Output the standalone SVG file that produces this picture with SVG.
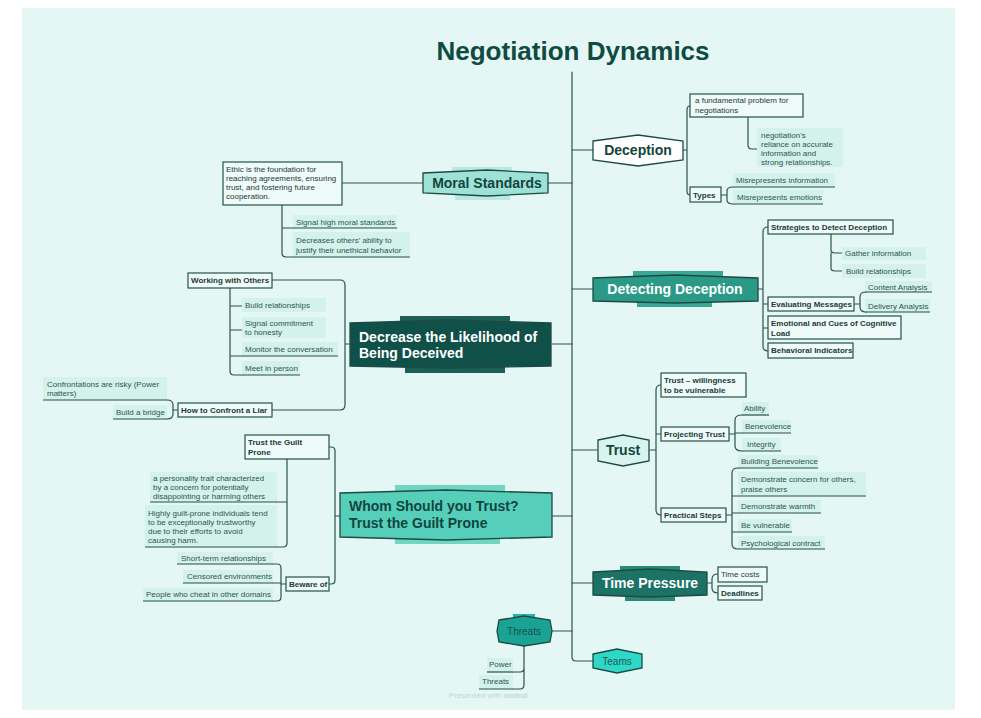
<svg xmlns="http://www.w3.org/2000/svg" width="981" height="718" viewBox="0 0 981 718">
<style>
.conn{fill:none;stroke:#2a524c;stroke-width:1.2;stroke-linecap:round}
.box{fill:#eefbf8;stroke:#24514b;stroke-width:1.2}
.lbl{fill:#d2f2eb}
.ul{stroke:#24514b;stroke-width:1.2;fill:none}
.t{font-family:"Liberation Sans",Arial,sans-serif;font-size:8px;fill:#35524e}
.tb{font-family:"Liberation Sans",Arial,sans-serif;font-size:8px;fill:#1c3a36;font-weight:bold}
.tn{font-family:"Liberation Sans",Arial,sans-serif;font-size:8px;fill:#1c3a36}
.main{font-family:"Liberation Sans",Arial,sans-serif;font-weight:bold;font-size:14px}
.ms{stroke:#1e4a44;stroke-width:1.3}
</style>
<rect x="0" y="0" width="981" height="718" fill="#ffffff"/>
<rect x="22" y="8" width="933" height="702" fill="#e4f7f4"/>
<text x="573" y="60" text-anchor="middle" font-family="Liberation Sans, Arial, sans-serif" font-weight="bold" font-size="26" fill="#0f4a43">Negotiation Dynamics</text>

<g id="connectors">
<path class="conn" d="M572,72 V657 Q572,661 576,661 H593"/>
<path class="conn" d="M572,150 H593 M572,289 H593 M572,450 H597 M572,583 H593"/>
<path class="conn" d="M572,183 H548 M572,344 H552 M572,516 H552 M572,631 H552"/>
<path class="conn" d="M683,150 H687 M690,106 Q687,106 687,110 V191 Q687,195 690,195 M748,117 V145 Q748,149 752,149 H757"/>
<path class="conn" d="M721,195 H727 M733,187 Q727,187 727,191 V200 Q727,204 733,204"/>
<path class="conn" d="M758,289 H763 M768,227 Q763,227 763,232 V346 Q763,351 768,351 M763,304 H768 M763,328 H768"/>
<path class="conn" d="M831,234 V250 Q831,253 835,253 H842 M831,253 V268 Q831,271 835,271 H842"/>
<path class="conn" d="M854,304 H860 M866,292 Q860,292 860,297 V307 Q860,312 866,312"/>
<path class="conn" d="M650,450 H656 M661,385 Q656,385 656,390 V510 Q656,515 661,515 M656,434 H661"/>
<path class="conn" d="M729,434 H735 M742,415 Q735,415 735,420 V446 Q735,451 742,451 M735,433 H742"/>
<path class="conn" d="M726,515 H732 M738,468 Q732,468 732,473 V544 Q732,549 738,549 M732,496 H738 M732,513 H738 M732,532 H738"/>
<path class="conn" d="M707,583 H712 M718,574 Q712,574 712,579 V588 Q712,593 718,593"/>
<path class="conn" d="M423,183 H342 M282,205 V253 Q282,257 286,257 H293 M282,228 H293"/>
<path class="conn" d="M350,344 H345 M272,280 H340 Q345,280 345,285 V405 Q345,410 340,410 H272"/>
<path class="conn" d="M230,288 V371 Q230,375 234,375 H242 M230,306 H242 M230,330 H242 M230,356 H242"/>
<path class="conn" d="M178,410 H173 M167,400 Q173,400 173,405 V414 Q173,419 167,419"/>
<path class="conn" d="M340,516 H335 M329,447 H331 Q335,447 335,451 V580 Q335,584 331,584 H329"/>
<path class="conn" d="M287,459 V543 Q287,547 283,547 H277 M287,502 H277"/>
<path class="conn" d="M286,584 H281 M273,564 H277 Q281,564 281,568 V597 Q281,601 277,601 H273 M281,583 H273"/>
<path class="conn" d="M524,645 V668 Q524,672 520,672 H513 M524,668 V685 Q524,689 520,689 H513"/>
</g>

<g id="deception">
<polygon points="593,141 638,135 683,141 683,160 638,166 593,160" fill="#ffffff" class="ms"/>
<text x="638" y="155" text-anchor="middle" class="main" fill="#14443e">Deception</text>
</g>
<g id="detecting-deception">
<rect x="633" y="271" width="90" height="8" fill="#3aa894"/>
<rect x="637" y="300" width="75" height="7" fill="#3aa894"/>
<polygon points="593,278 675,275 758,278 758,301 675,303 593,301" fill="#2a9a86" class="ms"/>
<text x="675" y="294" text-anchor="middle" class="main" fill="#ffffff">Detecting Deception</text>
</g>
<g id="trust">
<polygon points="598,440 623,435 649,440 649,461 623,466 598,461" fill="#d7f4ee" class="ms"/>
<text x="623" y="455" text-anchor="middle" class="main" fill="#14443e">Trust</text>
</g>
<g id="time-pressure">
<rect x="620" y="566" width="60" height="6" fill="#2a8a7a"/>
<rect x="625" y="595" width="50" height="6" fill="#2a8a7a"/>
<polygon points="593,572 650,569 707,572 707,595 650,597 593,595" fill="#1b7265" class="ms"/>
<text x="650" y="588" text-anchor="middle" class="main" fill="#ffffff">Time Pressure</text>
</g>
<g id="teams">
<polygon points="593,654 617,649 642,654 642,668 617,673 593,668" fill="#2dd8c8" class="ms"/>
<text x="617" y="665" text-anchor="middle" font-family="Liberation Sans, Arial, sans-serif" font-size="10" fill="#1a5a52">Teams</text>
</g>
<g id="moral-standards">
<rect x="452" y="167" width="60" height="6" fill="#b7ebe1"/>
<rect x="455" y="194" width="55" height="6" fill="#b7ebe1"/>
<polygon points="423,173 487,170 548,173 548,193 487,196 423,193" fill="#9de2d5" class="ms"/>
<text x="487" y="188" text-anchor="middle" class="main" fill="#14443e">Moral Standards</text>
</g>
<g id="decrease">
<rect x="400" y="316" width="110" height="7" fill="#1c5f56"/>
<rect x="405" y="366" width="100" height="7" fill="#1c5f56"/>
<polygon points="350,323 450,320 551,323 551,366 450,368 350,366" fill="#0f5148" class="ms"/>
<text x="359" y="342" class="main" font-size="13" fill="#ffffff">Decrease the Likelihood of</text>
<text x="359" y="358" class="main" font-size="13" fill="#ffffff">Being Deceived</text>
</g>
<g id="whom">
<rect x="395" y="485" width="110" height="8" fill="#6fd6c3"/>
<rect x="395" y="536" width="105" height="8" fill="#6fd6c3"/>
<polygon points="340,493 446,490 552,493 552,537 446,540 340,537" fill="#56cfba" class="ms"/>
<text x="349" y="511" class="main" font-size="13" fill="#11443e">Whom Should you Trust?</text>
<text x="349" y="528" class="main" font-size="13" fill="#11443e">Trust the Guilt Prone</text>
</g>
<g id="threats">
<rect x="513" y="614" width="22" height="5" fill="#2bb3a6"/>
<polygon points="499,620 524,616 550,620 552,631 550,642 524,646 499,642 497,631" fill="#1aa395" class="ms"/>
<text x="524" y="635" text-anchor="middle" font-family="Liberation Sans, Arial, sans-serif" font-size="10" fill="#14524a">Threats</text>
</g>

<g id="fundamental-problem">
<rect x="690" y="94" width="113" height="23" class="box"/>
<text x="695" y="103" class="tn">a fundamental problem for</text>
<text x="695" y="113" class="tn">negotiations</text>
</g>
<g id="reliance">
<rect x="757" y="128" width="86" height="39" class="lbl"/>
<text x="761" y="138" class="t">negotiation's</text>
<text x="761" y="147" class="t">reliance on accurate</text>
<text x="761" y="156" class="t">information and</text>
<text x="761" y="165" class="t">strong relationships.</text>
</g>
<g id="types">
<rect x="690" y="187" width="31" height="15" class="box"/>
<text x="693" y="198" class="tb">Types</text>
</g>
<g id="misrep-info">
<rect x="733" y="173" width="102" height="14" class="lbl"/>
<line x1="733" y1="187" x2="835" y2="187" class="ul"/>
<text x="736" y="183" class="t">Misrepresents information</text>
</g>
<g id="misrep-emotions">
<rect x="733" y="190" width="90" height="14" class="lbl"/>
<line x1="733" y1="204" x2="823" y2="204" class="ul"/>
<text x="737" y="200" class="t">Misrepresents emotions</text>
</g>

<g id="strategies">
<rect x="768" y="220" width="125" height="14" class="box"/>
<text x="771" y="230" class="tb">Strategies to Detect Deception</text>
</g>
<g id="gather-info">
<rect x="842" y="247" width="84" height="13" class="lbl"/>
<text x="845" y="256" class="t">Gather information</text>
</g>
<g id="build-rel-1">
<rect x="842" y="264" width="84" height="14" class="lbl"/>
<text x="846" y="274" class="t">Build relationships</text>
</g>
<g id="evaluating">
<rect x="768" y="297" width="86" height="14" class="box"/>
<text x="771" y="307" class="tb">Evaluating Messages</text>
</g>
<g id="content-analysis">
<rect x="865" y="281" width="67" height="11" class="lbl"/>
<line x1="865" y1="292" x2="932" y2="292" class="ul"/>
<text x="868" y="290" class="t">Content Analysis</text>
</g>
<g id="delivery-analysis">
<rect x="865" y="299" width="65" height="13" class="lbl"/>
<line x1="865" y1="312" x2="930" y2="312" class="ul"/>
<text x="868" y="309" class="t">Delivery Analysis</text>
</g>
<g id="emotional">
<rect x="768" y="316" width="133" height="23" class="box"/>
<text x="771" y="326" class="tb">Emotional and Cues of Cognitive</text>
<text x="771" y="336" class="tb">Load</text>
</g>
<g id="behavioral">
<rect x="768" y="343" width="85" height="15" class="box"/>
<text x="771" y="353" class="tb">Behavioral Indicators</text>
</g>

<g id="trust-willingness">
<rect x="661" y="373" width="85" height="24" class="box"/>
<text x="664" y="383" class="tb">Trust – willingness</text>
<text x="664" y="393" class="tb">to be vulnerable</text>
</g>
<g id="projecting-trust">
<rect x="661" y="427" width="68" height="14" class="box"/>
<text x="664" y="437" class="tb">Projecting Trust</text>
</g>
<g id="ability">
<rect x="742" y="402" width="27" height="13" class="lbl"/>
<line x1="742" y1="415" x2="769" y2="415" class="ul"/>
<text x="744" y="411" class="t">Ability</text>
</g>
<g id="benevolence">
<rect x="742" y="420" width="49" height="13" class="lbl"/>
<line x1="742" y1="433" x2="791" y2="433" class="ul"/>
<text x="745" y="429" class="t">Benevolence</text>
</g>
<g id="integrity">
<rect x="742" y="438" width="39" height="13" class="lbl"/>
<line x1="742" y1="451" x2="781" y2="451" class="ul"/>
<text x="747" y="447" class="t">Integrity</text>
</g>
<g id="practical-steps">
<rect x="661" y="508" width="65" height="14" class="box"/>
<text x="664" y="518" class="tb">Practical Steps</text>
</g>
<g id="building-benevolence">
<rect x="738" y="455" width="80" height="13" class="lbl"/>
<line x1="738" y1="468" x2="818" y2="468" class="ul"/>
<text x="741" y="464" class="t">Building Benevolence</text>
</g>
<g id="demonstrate-concern">
<rect x="738" y="472" width="128" height="24" class="lbl"/>
<line x1="738" y1="496" x2="866" y2="496" class="ul"/>
<text x="741" y="482" class="t">Demonstrate concern for others,</text>
<text x="741" y="492" class="t">praise others</text>
</g>
<g id="demonstrate-warmth">
<rect x="738" y="500" width="83" height="13" class="lbl"/>
<line x1="738" y1="513" x2="821" y2="513" class="ul"/>
<text x="741" y="509" class="t">Demonstrate warmth</text>
</g>
<g id="be-vulnerable">
<rect x="738" y="519" width="54" height="13" class="lbl"/>
<line x1="738" y1="532" x2="792" y2="532" class="ul"/>
<text x="741" y="528" class="t">Be vulnerable</text>
</g>
<g id="psych-contract">
<rect x="738" y="536" width="87" height="13" class="lbl"/>
<line x1="738" y1="549" x2="825" y2="549" class="ul"/>
<text x="741" y="546" class="t">Psychological contract</text>
</g>

<g id="time-costs">
<rect x="718" y="567" width="49" height="15" class="box"/>
<text x="721" y="577" class="tn">Time costs</text>
</g>
<g id="deadlines">
<rect x="718" y="586" width="44" height="14" class="box"/>
<text x="721" y="596" class="tb">Deadlines</text>
</g>

<g id="ethic">
<rect x="223" y="162" width="119" height="43" class="box"/>
<text x="226" y="172" class="tn">Ethic is the foundation for</text>
<text x="226" y="181" class="tn">reaching agreements, ensuring</text>
<text x="226" y="190" class="tn">trust, and fostering future</text>
<text x="226" y="199" class="tn">cooperation.</text>
</g>
<g id="signal-high">
<rect x="293" y="215" width="104" height="13" class="lbl"/>
<line x1="293" y1="228" x2="397" y2="228" class="ul"/>
<text x="296" y="225" class="t">Signal high moral standards</text>
</g>
<g id="decreases-others">
<rect x="293" y="232" width="117" height="25" class="lbl"/>
<line x1="293" y1="257" x2="410" y2="257" class="ul"/>
<text x="296" y="243" class="t">Decreases others' ability to</text>
<text x="296" y="253" class="t">justify their unethical behavior</text>
</g>

<g id="working-with-others">
<rect x="188" y="273" width="84" height="15" class="box"/>
<text x="191" y="283" class="tb">Working with Others</text>
</g>
<g id="build-rel-2">
<rect x="242" y="298" width="84" height="14" class="lbl"/>
<text x="245" y="308" class="t">Build relationships</text>
</g>
<g id="signal-commitment">
<rect x="242" y="317" width="84" height="21" class="lbl"/>
<text x="245" y="326" class="t">Signal commitment</text>
<text x="245" y="335" class="t">to honesty</text>
</g>
<g id="monitor">
<rect x="242" y="342" width="96" height="14" class="lbl"/>
<line x1="242" y1="356" x2="338" y2="356" class="ul"/>
<text x="245" y="352" class="t">Monitor the conversation</text>
</g>
<g id="meet-in-person">
<rect x="242" y="361" width="58" height="14" class="lbl"/>
<line x1="242" y1="375" x2="300" y2="375" class="ul"/>
<text x="245" y="371" class="t">Meet in person</text>
</g>
<g id="confront-liar">
<rect x="178" y="403" width="94" height="14" class="box"/>
<text x="181" y="413" class="tb">How to Confront a Liar</text>
</g>
<g id="confrontations-risky">
<rect x="43" y="377" width="124" height="23" class="lbl"/>
<line x1="43" y1="400" x2="167" y2="400" class="ul"/>
<text x="47" y="387" class="t">Confrontations are risky (Power</text>
<text x="47" y="396" class="t">matters)</text>
</g>
<g id="build-bridge">
<rect x="113" y="405" width="54" height="14" class="lbl"/>
<line x1="113" y1="419" x2="167" y2="419" class="ul"/>
<text x="116" y="415" class="t">Build a bridge</text>
</g>

<g id="trust-guilt">
<rect x="245" y="435" width="84" height="24" class="box"/>
<text x="248" y="445" class="tb">Trust the Guilt</text>
<text x="248" y="455" class="tb">Prone</text>
</g>
<g id="personality-trait">
<rect x="150" y="472" width="127" height="30" class="lbl"/>
<line x1="150" y1="502" x2="277" y2="502" class="ul"/>
<text x="153" y="481" class="t">a personality trait characterized</text>
<text x="153" y="490" class="t">by a concern for potentially</text>
<text x="153" y="499" class="t">disappointing or harming others</text>
</g>
<g id="highly-guilt">
<rect x="145" y="505" width="132" height="42" class="lbl"/>
<line x1="145" y1="547" x2="277" y2="547" class="ul"/>
<text x="148" y="516" class="t">Highly guilt-prone individuals tend</text>
<text x="148" y="525" class="t">to be exceptionally trustworthy</text>
<text x="148" y="534" class="t">due to their efforts to avoid</text>
<text x="148" y="543" class="t">causing harm.</text>
</g>
<g id="beware-of">
<rect x="286" y="577" width="43" height="14" class="box"/>
<text x="289" y="587" class="tb">Beware of</text>
</g>
<g id="short-term">
<rect x="177" y="552" width="96" height="12" class="lbl"/>
<line x1="177" y1="564" x2="273" y2="564" class="ul"/>
<text x="181" y="561" class="t">Short-term relationships</text>
</g>
<g id="censored">
<rect x="183" y="570" width="90" height="13" class="lbl"/>
<line x1="183" y1="583" x2="273" y2="583" class="ul"/>
<text x="187" y="579" class="t">Censored environments</text>
</g>
<g id="people-cheat">
<rect x="143" y="588" width="130" height="13" class="lbl"/>
<line x1="143" y1="601" x2="273" y2="601" class="ul"/>
<text x="146" y="597" class="t">People who cheat in other domains</text>
</g>

<g id="power">
<rect x="487" y="658" width="26" height="14" class="lbl"/>
<line x1="487" y1="672" x2="513" y2="672" class="ul"/>
<text x="489" y="667" class="t">Power</text>
</g>
<g id="threats-child">
<rect x="479" y="675" width="34" height="14" class="lbl"/>
<line x1="479" y1="689" x2="513" y2="689" class="ul"/>
<text x="482" y="684" class="t">Threats</text>
</g>

<text x="488" y="698" text-anchor="middle" font-family="Liberation Sans, Arial, sans-serif" font-size="8" fill="#c3d8d4">Presented with <tspan font-weight="bold">xmind</tspan></text>
</svg>
